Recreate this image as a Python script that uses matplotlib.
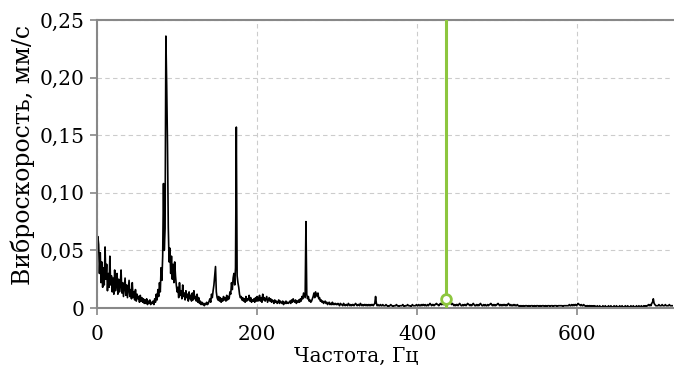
import numpy as np
import matplotlib
matplotlib.use("Agg")
import matplotlib.pyplot as plt
from matplotlib.ticker import FuncFormatter

## Spectrum data: amplitude per 1 Hz bin, 0..720 Hz, in 1e-3 mm/s
freq_hz = np.arange(0, 721)
amp_um = [
    45, 62, 55, 30, 48, 22, 40, 18, 35, 20, 53, 25, 38, 15, 30, 18, 45, 20, 28, 14,   # 0
    26, 12, 33, 15, 22, 30, 12, 25, 14, 20, 33, 13, 22, 10, 18, 26, 11, 20, 9, 17,    # 20
    24, 10, 16, 8, 22, 9, 14, 7, 16, 6, 12, 8, 10, 5, 11, 6, 9, 5, 8, 4,               # 40
    7, 4, 8, 3, 6, 4, 7, 3, 5, 4, 6, 3, 8, 5, 12, 7, 16, 10, 22, 14,                   # 60
    35, 24, 45, 108, 50, 69, 236, 193, 142, 70, 40, 52, 30, 45, 25, 38, 22, 40, 28, 20,  # 80
    14, 18, 9, 22, 11, 15, 8, 20, 10, 13, 7, 15, 9, 12, 6, 14, 8, 11, 6, 13,           # 100
    7, 15, 8, 10, 6, 12, 5, 9, 4, 6, 3, 5, 3, 4, 2, 4, 3, 5, 3, 4,                     # 120
    6, 8, 5, 12, 9, 15, 20, 28, 36, 14, 9, 7, 10, 6, 9, 5, 8, 6, 10, 7,                # 140
    9, 6, 11, 7, 10, 8, 14, 12, 22, 16, 26, 30, 20, 35, 157, 28, 22, 18, 12, 9,        # 160
    10, 7, 9, 6, 8, 5, 10, 6, 8, 7, 11, 6, 9, 5, 7, 6, 8, 5, 9, 6,                     # 180
    10, 6, 8, 11, 6, 9, 5, 12, 7, 9, 6, 8, 10, 5, 7, 9, 6, 8, 5, 7,                    # 200
    6, 4, 7, 5, 6, 4, 5, 7, 4, 6, 5, 4, 6, 3, 5, 4, 6, 4, 5, 4,                        # 220
    5, 6, 4, 7, 5, 8, 6, 5, 7, 4, 6, 5, 7, 5, 8, 6, 10, 8, 13, 11,                     # 240
    9, 75, 12, 8, 10, 6, 7, 5, 6, 8, 10, 13, 9, 14, 12, 10, 13, 8, 9, 6,               # 260
    7, 5, 6, 4, 5, 6, 4, 5, 3, 4, 5, 3, 4, 3, 5, 3, 4, 3, 4, 3,                        # 280
    3, 4, 3, 2, 4, 3, 3, 2, 4, 3, 2, 3, 3, 2, 4, 3, 2, 3, 2, 3,                        # 300
    3, 2, 3, 4, 3, 2, 3, 3, 2, 4, 3, 2, 3, 2, 3, 3, 2, 3, 2, 3,                        # 320
    2, 3, 2, 3, 3, 2, 3, 4, 10, 4, 2, 3, 2, 2, 3, 2, 2, 3, 2, 2,                       # 340
    2, 3, 2, 2, 1, 2, 2, 3, 2, 2, 1, 2, 2, 2, 3, 2, 2, 1, 2, 2,                        # 360
    2, 2, 3, 2, 1, 2, 2, 2, 3, 2, 2, 2, 1, 2, 3, 2, 2, 2, 2, 3,                        # 380
    2, 2, 3, 2, 2, 3, 2, 3, 3, 2, 3, 2, 2, 3, 2, 3, 4, 3, 2, 3,                        # 400
    3, 2, 3, 3, 4, 3, 3, 2, 3, 4, 3, 3, 4, 3, 3, 4, 3, 4, 3, 4,                        # 420
    5, 6, 4, 3, 4, 3, 2, 3, 2, 3, 3, 2, 3, 4, 3, 2, 2, 3, 2, 3,                        # 440
    3, 2, 3, 4, 3, 3, 2, 3, 2, 3, 4, 3, 2, 2, 3, 2, 3, 2, 3, 4,                        # 460
    3, 2, 2, 3, 2, 3, 2, 2, 3, 2, 3, 3, 4, 3, 2, 3, 2, 3, 2, 3,                        # 480
    3, 4, 3, 2, 3, 2, 3, 2, 3, 3, 2, 3, 2, 3, 4, 3, 2, 3, 2, 2,                        # 500
    3, 2, 3, 2, 2, 3, 2, 2, 1, 2, 2, 1, 2, 2, 1, 2, 2, 2, 1, 2,                        # 520
    2, 1, 2, 2, 2, 1, 2, 2, 1, 2, 2, 2, 1, 2, 2, 1, 2, 2, 2, 1,                        # 540
    2, 2, 1, 2, 2, 2, 1, 2, 2, 2, 1, 2, 2, 2, 2, 1, 2, 2, 2, 2,                        # 560
    2, 2, 1, 2, 2, 2, 2, 2, 2, 2, 3, 2, 2, 3, 2, 3, 2, 3, 3, 2,                        # 580
    3, 4, 3, 3, 2, 3, 2, 2, 3, 2, 2, 1, 2, 2, 1, 2, 2, 1, 2, 1,                        # 600
    2, 1, 2, 1, 1, 2, 1, 1, 2, 1, 1, 1, 2, 1, 1, 2, 1, 1, 1, 2,                        # 620
    1, 1, 2, 1, 1, 1, 2, 1, 1, 2, 1, 1, 1, 2, 1, 1, 2, 1, 1, 1,                        # 640
    2, 1, 1, 2, 1, 1, 1, 2, 1, 1, 2, 1, 1, 1, 2, 1, 1, 2, 1, 1,                        # 660
    2, 1, 1, 2, 1, 2, 1, 2, 2, 3, 2, 3, 2, 4, 5, 8, 4, 3, 2, 2,                        # 680
    2, 2, 3, 2, 2, 2, 3, 2, 2, 2, 3, 2, 2, 2, 2, 3, 2, 2, 2, 2,                        # 700
    2,                                                                                 # 720
]

## Marker (green cursor)
cursor_hz = 436
cursor_val = 0.008

x_ticks = [0, 200, 400, 600]
y_ticks = [0, 0.05, 0.10, 0.15, 0.20, 0.25]

plt.rcParams['font.family'] = ['DejaVu Serif']
plt.rcParams['font.size'] = 14

fig = plt.figure(figsize=(6.74, 3.68), dpi=100)
ax = fig.add_axes([0.144, 0.163, 0.855, 0.7827])

amp = np.array(amp_um) / 1000.0
ax.plot(freq_hz, amp, color='black', lw=1.2)

ax.axvline(cursor_hz, color='#8dc63f', lw=2.2, zorder=4)
ax.plot([cursor_hz], [cursor_val], 'o', ms=7, mfc='white', mec='#8dc63f', mew=2, zorder=5)

ax.set_xlim(0, 720)
ax.set_ylim(0, 0.25)
ax.set_xticks(x_ticks)
ax.set_yticks(y_ticks)

def fmt_y(v, pos):
    if v == 0:
        return "0"
    return f"{v:.2f}".replace(".", ",")

ax.yaxis.set_major_formatter(FuncFormatter(fmt_y))

ax.grid(True, color='#cccccc', ls=(0, (4, 3)), lw=0.8)
ax.set_axisbelow(True)

for side in ['left', 'bottom', 'top']:
    ax.spines[side].set_color('#888888')
    ax.spines[side].set_linewidth(1.5)
ax.spines['right'].set_visible(False)
ax.tick_params(colors='#888888', width=1.2, length=5, pad=4, labelcolor='black', labelsize=14.5)
ax.tick_params(axis='x', pad=7)

ax.set_xlabel("Частота, Гц", fontsize=14.5)
ax.set_ylabel("Виброскорость, мм/с", fontsize=17)
ax.xaxis.set_label_coords(0.45, -0.135)
ax.yaxis.set_label_coords(-0.108, 0.53)

fig.savefig("out.png", dpi=100)
